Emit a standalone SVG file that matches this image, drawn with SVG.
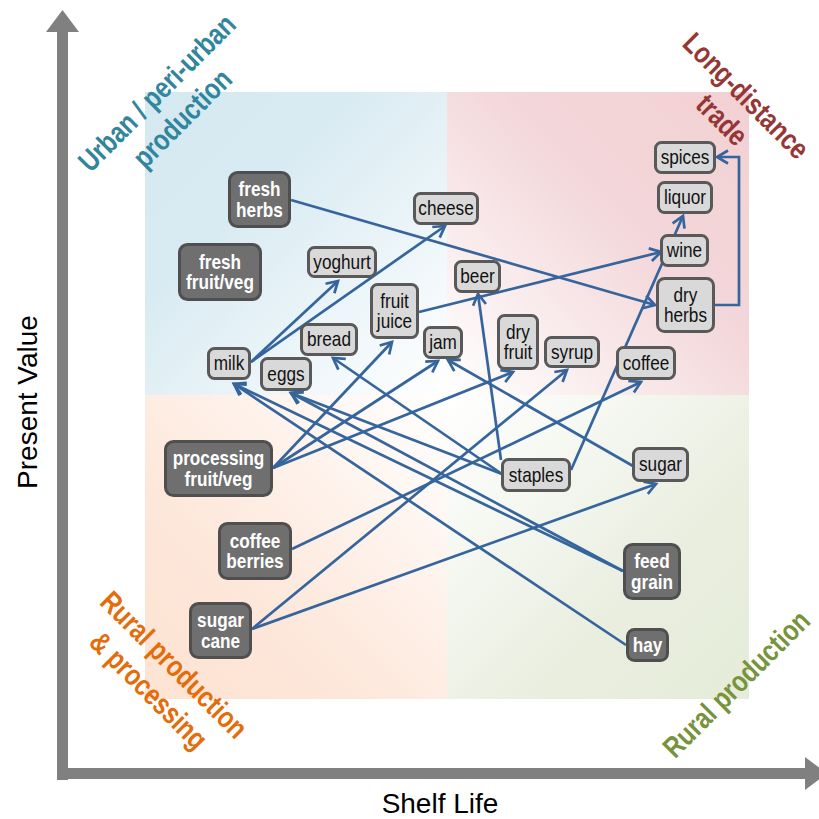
<svg xmlns="http://www.w3.org/2000/svg" width="819" height="819" viewBox="0 0 819 819">
<style>
.bg{stroke:none}
.ln{fill:none;stroke:#35659c;stroke-width:2.7;marker-end:url(#ah)}
.lt rect{fill:#d9d9d9;stroke:#595959;stroke-width:3}
.dk rect{fill:#6f6f6f;stroke:#4f4f4f;stroke-width:3}
.lt text{font-family:"Liberation Sans",Arial,sans-serif;font-size:20px;fill:#111;text-anchor:middle}
.dk text{font-family:"Liberation Sans",Arial,sans-serif;font-size:20px;font-weight:bold;fill:#fff;text-anchor:middle}
.reg{font-family:"Liberation Sans",Arial,sans-serif;font-size:29.5px;font-weight:bold;text-anchor:middle}
.ax{font-family:"Liberation Sans",Arial,sans-serif;font-size:28px;fill:#000;text-anchor:middle}
</style>
<defs>
<linearGradient id="gB" x1="0" y1="0" x2="1" y2="1"><stop offset="0" stop-color="#d5e9f1"/><stop offset="0.35" stop-color="#d9ebf2"/><stop offset="1" stop-color="#ffffff"/></linearGradient>
<linearGradient id="gP" x1="1" y1="0" x2="0" y2="1"><stop offset="0" stop-color="#f2d1d4"/><stop offset="0.4" stop-color="#f3d6d9"/><stop offset="1" stop-color="#ffffff"/></linearGradient>
<linearGradient id="gO" x1="0" y1="1" x2="1" y2="0"><stop offset="0" stop-color="#fde3d2"/><stop offset="0.35" stop-color="#fde7da"/><stop offset="1" stop-color="#ffffff"/></linearGradient>
<linearGradient id="gG" x1="1" y1="1" x2="0" y2="0"><stop offset="0" stop-color="#e6ecd9"/><stop offset="0.35" stop-color="#e9eedf"/><stop offset="1" stop-color="#ffffff"/></linearGradient>
<marker id="ah" markerUnits="userSpaceOnUse" markerWidth="18" markerHeight="18" viewBox="0 0 18 18" refX="14" refY="9" orient="auto">
<path d="M3,2.5 L14,9 L3,15.5" fill="none" stroke="#35659c" stroke-width="2.7"/>
</marker>
</defs>
<rect width="819" height="819" fill="#ffffff"/>
<g id="background">
<rect class="bg" x="145" y="92" width="302" height="303" fill="url(#gB)"/>
<rect class="bg" x="447" y="92" width="302" height="303" fill="url(#gP)"/>
<rect class="bg" x="145" y="395" width="302" height="304" fill="url(#gO)"/>
<rect class="bg" x="447" y="395" width="302" height="304" fill="url(#gG)"/>
</g>
<g id="axes" fill="#808080">
<rect x="57" y="30" width="11" height="750"/>
<polygon points="46,32 62.5,10 79,32"/>
<rect x="57" y="768" width="750" height="11"/>
<polygon points="805,757 827,773.5 805,790"/>
<text class="ax" transform="translate(37,402) rotate(-90)">Present Value</text>
<text class="ax" x="440" y="813">Shelf Life</text>
</g>
<g id="region-labels">
<text class="reg" fill="#31859c" transform="translate(164,100) rotate(-45) scale(0.815,1)"><tspan x="0" y="0">Urban / peri-urban</tspan><tspan x="0" dy="36">production</tspan></text>
<text class="reg" fill="#953735" transform="translate(739,103) rotate(45) scale(0.815,1)"><tspan x="0" y="0">Long-distance</tspan><tspan x="0" dy="34">trade</tspan></text>
<text class="reg" fill="#e46c0a" transform="translate(167,672) rotate(45) scale(0.815,1)"><tspan x="0" y="0">Rural production</tspan><tspan x="0" dy="36">&amp; processing</tspan></text>
<text class="reg" fill="#77933c" transform="translate(743.5,691) rotate(-45) scale(0.815,1)">Rural production</text>
</g>
<g id="connectors">
<line class="ln" x1="291" y1="200" x2="655" y2="305"/>
<line class="ln" x1="251" y1="362" x2="338" y2="281"/>
<line class="ln" x1="251" y1="362" x2="445" y2="226"/>
<path class="ln" d="M715,305 H739 V157 H717"/>
<line class="ln" x1="571" y1="470" x2="683" y2="216"/>
<line class="ln" x1="419" y1="312" x2="661" y2="252"/>
<line class="ln" x1="501" y1="460" x2="478" y2="294"/>
<line class="ln" x1="292" y1="549" x2="641" y2="382"/>
<line class="ln" x1="252" y1="629" x2="656" y2="484"/>
<line class="ln" x1="252" y1="629" x2="567" y2="370"/>
<line class="ln" x1="273" y1="468" x2="392" y2="342"/>
<line class="ln" x1="273" y1="468" x2="438" y2="361"/>
<line class="ln" x1="273" y1="468" x2="513" y2="372"/>
<line class="ln" x1="623" y1="571" x2="234" y2="384"/>
<line class="ln" x1="626" y1="645" x2="234" y2="384"/>
<line class="ln" x1="623" y1="571" x2="291" y2="393"/>
<line class="ln" x1="502" y1="474" x2="291" y2="393"/>
<line class="ln" x1="502" y1="474" x2="333" y2="358"/>
<line class="ln" x1="633" y1="466" x2="448" y2="360"/>
</g>
<g id="node-fresh-herbs" class="dk"><rect x="229.5" y="172.5" width="60" height="54" rx="8"/><text transform="translate(259.5,196) scale(0.86,1)"><tspan x="0" y="0">fresh</tspan><tspan x="0" dy="21">herbs</tspan></text></g>
<g id="node-fresh-fruit-veg" class="dk"><rect x="179.5" y="244.5" width="81" height="55" rx="8"/><text transform="translate(220,268.5) scale(0.86,1)"><tspan x="0" y="0">fresh</tspan><tspan x="0" dy="21">fruit/veg</tspan></text></g>
<g id="node-cheese" class="lt"><rect x="414.5" y="193.5" width="63" height="30" rx="6"/><text transform="translate(446,215) scale(0.86,1)">cheese</text></g>
<g id="node-yoghurt" class="lt"><rect x="308.5" y="247.5" width="67" height="29" rx="6"/><text transform="translate(342,268.5) scale(0.86,1)">yoghurt</text></g>
<g id="node-fruit-juice" class="lt"><rect x="371.5" y="284.5" width="46" height="53" rx="6"/><text transform="translate(394.5,307.5) scale(0.86,1)"><tspan x="0" y="0">fruit</tspan><tspan x="0" dy="21">juice</tspan></text></g>
<g id="node-bread" class="lt"><rect x="301.5" y="324.5" width="55" height="30" rx="6"/><text transform="translate(329,346) scale(0.86,1)">bread</text></g>
<g id="node-jam" class="lt"><rect x="424.5" y="327.5" width="37" height="30" rx="6"/><text transform="translate(443,349) scale(0.86,1)">jam</text></g>
<g id="node-milk" class="lt"><rect x="208.5" y="348.5" width="41" height="30" rx="6"/><text transform="translate(229,370) scale(0.86,1)">milk</text></g>
<g id="node-eggs" class="lt"><rect x="261.5" y="358.5" width="49" height="31" rx="6"/><text transform="translate(286,380.5) scale(0.86,1)">eggs</text></g>
<g id="node-beer" class="lt"><rect x="455.5" y="261.5" width="44" height="30" rx="6"/><text transform="translate(477.5,283) scale(0.86,1)">beer</text></g>
<g id="node-spices" class="lt"><rect x="655.5" y="142.5" width="59" height="30" rx="6"/><text transform="translate(685,164) scale(0.86,1)">spices</text></g>
<g id="node-liquor" class="lt"><rect x="658.5" y="182.5" width="53" height="30" rx="6"/><text transform="translate(685,204) scale(0.86,1)">liquor</text></g>
<g id="node-wine" class="lt"><rect x="661.5" y="235.5" width="46" height="30" rx="6"/><text transform="translate(684.5,257) scale(0.86,1)">wine</text></g>
<g id="node-dry-herbs" class="lt"><rect x="657.5" y="278.5" width="56" height="53" rx="7"/><text transform="translate(685.5,301.5) scale(0.86,1)"><tspan x="0" y="0">dry</tspan><tspan x="0" dy="21">herbs</tspan></text></g>
<g id="node-dry-fruit" class="lt"><rect x="498.5" y="315.5" width="39" height="53" rx="6"/><text transform="translate(518,338.5) scale(0.86,1)"><tspan x="0" y="0">dry</tspan><tspan x="0" dy="21">fruit</tspan></text></g>
<g id="node-syrup" class="lt"><rect x="545.5" y="337.5" width="53" height="29" rx="6"/><text transform="translate(572,358.5) scale(0.86,1)">syrup</text></g>
<g id="node-coffee" class="lt"><rect x="617.5" y="347.5" width="57" height="31" rx="6"/><text transform="translate(646,369.5) scale(0.86,1)">coffee</text></g>
<g id="node-staples" class="lt"><rect x="502.5" y="459.5" width="67" height="31" rx="6"/><text transform="translate(536,481.5) scale(0.86,1)">staples</text></g>
<g id="node-sugar" class="lt"><rect x="633.5" y="448.5" width="54" height="32" rx="6"/><text transform="translate(660.5,471) scale(0.86,1)">sugar</text></g>
<g id="node-processing-fruit-veg" class="dk"><rect x="165.5" y="441.5" width="106" height="54" rx="8"/><text transform="translate(218.5,465) scale(0.86,1)"><tspan x="0" y="0">processing</tspan><tspan x="0" dy="21">fruit/veg</tspan></text></g>
<g id="node-coffee-berries" class="dk"><rect x="219.5" y="523.5" width="71" height="55" rx="8"/><text transform="translate(255,547.5) scale(0.86,1)"><tspan x="0" y="0">coffee</tspan><tspan x="0" dy="21">berries</tspan></text></g>
<g id="node-sugar-cane" class="dk"><rect x="190.5" y="603.5" width="60" height="54" rx="8"/><text transform="translate(220.5,627) scale(0.86,1)"><tspan x="0" y="0">sugar</tspan><tspan x="0" dy="21">cane</tspan></text></g>
<g id="node-feed-grain" class="dk"><rect x="624.5" y="544.5" width="55" height="54" rx="8"/><text transform="translate(652,568) scale(0.86,1)"><tspan x="0" y="0">feed</tspan><tspan x="0" dy="21">grain</tspan></text></g>
<g id="node-hay" class="dk"><rect x="627.5" y="629.5" width="40" height="31" rx="7"/><text transform="translate(647.5,651.5) scale(0.86,1)">hay</text></g>
</svg>
